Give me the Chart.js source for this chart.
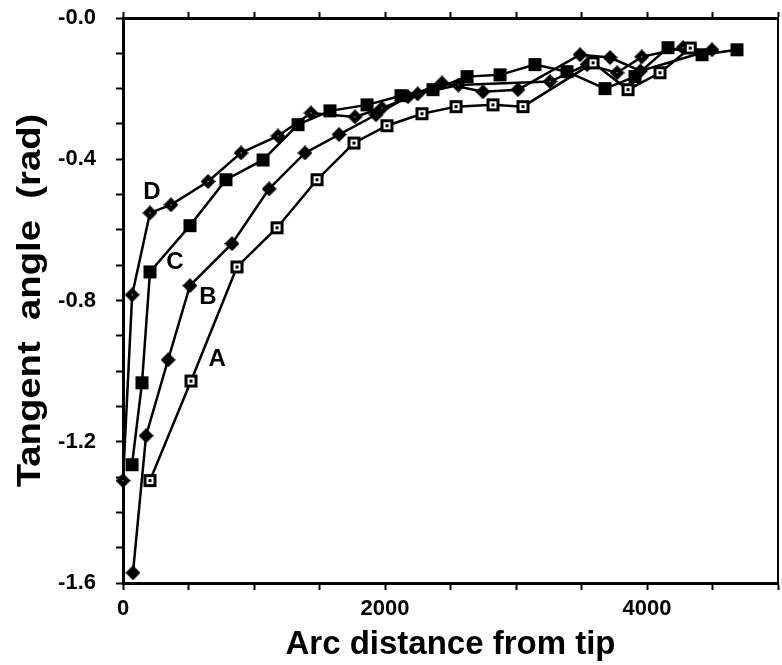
<!DOCTYPE html>
<html>
<head>
<meta charset="utf-8">
<script src="https://cdn.jsdelivr.net/npm/chart.js@4"></script>
<style>
  html, body { margin: 0; padding: 0; background: #fff; }
  #wrap { width: 782px; height: 665px; }
</style>
</head>
<body>
<div id="wrap"><canvas id="chart" width="782" height="665"></canvas></div>
<script>
// ─── Data ─────────────────────────────────────────────────────────────────────
const xA = [206, 519, 870, 1176, 1481, 1763, 2015, 2282, 2542, 2824, 3053, 3588, 3855, 4099, 4330];
const yA = [-1.31, -1.028, -0.705, -0.594, -0.458, -0.354, -0.305, -0.271, -0.251, -0.246, -0.251, -0.127, -0.203, -0.155, -0.085];

const xB = [76, 176, 344, 511, 832, 1115, 1389, 1649, 1931, 2176, 2435, 2748, 3015, 3489, 3718, 3950, 4496];
const yB = [-1.571, -1.183, -0.968, -0.758, -0.639, -0.484, -0.382, -0.330, -0.274, -0.223, -0.184, -0.209, -0.203, -0.104, -0.112, -0.150, -0.090];

const xC = [69, 145, 206, 511, 786, 1069, 1336, 1580, 1863, 2122, 2366, 2626, 2878, 3145, 3389, 3679, 3908, 4160, 4420, 4687];
const yC = [-1.265, -1.033, -0.719, -0.588, -0.458, -0.402, -0.302, -0.263, -0.246, -0.220, -0.203, -0.166, -0.161, -0.132, -0.152, -0.200, -0.166, -0.084, -0.104, -0.090];

const xD = [0, 70, 206, 366, 649, 901, 1183, 1435, 1771, 1977, 2250, 2560, 3260, 3542, 3771, 3960, 4275];
const yD = [-1.31, -0.784, -0.552, -0.529, -0.463, -0.382, -0.334, -0.269, -0.280, -0.255, -0.215, -0.190, -0.180, -0.132, -0.155, -0.110, -0.084];

// curve letters, placed in data units
const curveNames = ["A", "B", "C", "D"];
const nameX      = [718, 649, 397, 221];
const nameY      = [-0.968, -0.79, -0.693, -0.495];

const xTickLabels = [0, 2000, 4000];
const yTitle = "Tangent  angle  (rad)";
const xTitle = "Arc distance from tip";

const FONT = "'Liberation Sans', Arial, sans-serif";

// ─── Marker images ────────────────────────────────────────────────────────────
function marker(kind) {
  const s = 15;
  const c = document.createElement("canvas");
  c.width = s; c.height = s;
  const g = c.getContext("2d");
  g.fillStyle = "#000";
  if (kind === "squareDot") {
    g.fillRect(1, 1, 13, 13);
    g.fillStyle = "#fff";
    g.fillRect(4, 4, 7, 7);
    g.fillStyle = "#000";
    g.fillRect(6, 6, 3, 3);
  } else if (kind === "square") {
    g.fillRect(1, 1, 13, 13);
  } else {
    g.beginPath();
    g.moveTo(7.5, 0); g.lineTo(15, 7.5); g.lineTo(7.5, 15); g.lineTo(0, 7.5);
    g.closePath();
    g.fill();
    if (kind === "diamondDot") {
      g.fillStyle = "#fff";
      g.fillRect(7, 7, 1, 1);
    }
  }
  return c;
}

function series(xs, ys, style) {
  return {
    data: xs.map((x, i) => ({ x, y: ys[i] })),
    borderColor: "#000",
    borderWidth: 2.5,
    pointStyle: marker(style),
    pointRadius: 2,          // image markers are drawn at their own size
    pointBorderWidth: 0,
    tension: 0,
    fill: false,
    clip: false
  };
}

// ─── Letters next to the curves + stretched y title ──────────────────────────
const extras = {
  id: "extras",
  afterDatasetsDraw(chart) {
    const { ctx, scales, chartArea } = chart;
    ctx.save();
    ctx.fillStyle = "#000";
    ctx.font = "bold 24px " + FONT;
    ctx.textAlign = "center";
    ctx.textBaseline = "middle";
    curveNames.forEach((n, i) => {
      ctx.fillText(n, scales.x.getPixelForValue(nameX[i]), scales.y.getPixelForValue(nameY[i]));
    });
    ctx.restore();

    ctx.save();
    ctx.fillStyle = "#000";
    ctx.font = "bold 33px " + FONT;
    ctx.textAlign = "center";
    ctx.textBaseline = "alphabetic";
    ctx.translate(40, (chartArea.top + chartArea.bottom) / 2);
    ctx.rotate(-Math.PI / 2);
    ctx.scale(1.16, 1);
    ctx.fillText(yTitle, 0, 0);
    ctx.restore();
  }
};

const tickFont = { family: FONT, size: 22, weight: "bold" };

function noPad(s) {
  s.paddingTop = 0; s.paddingBottom = 0; s.paddingLeft = 0; s.paddingRight = 0;
}

new Chart(document.getElementById("chart"), {
  type: "line",
  data: {
    datasets: [
      series(xA, yA, "squareDot"),
      series(xB, yB, "diamond"),
      series(xC, yC, "square"),
      series(xD, yD, "diamondDot")
    ]
  },
  plugins: [extras],
  options: {
    responsive: false,
    animation: false,
    layout: { padding: { left: 4, right: 0, top: 0, bottom: 0 } },
    plugins: { legend: { display: false }, tooltip: { enabled: false } },
    scales: {
      x: {
        type: "linear",
        position: "bottom",
        min: 0, max: 5000,
        ticks: {
          stepSize: 500, autoSkip: false, maxRotation: 0,
          color: "#000", font: tickFont, padding: 6,
          callback: v => xTickLabels.includes(v) ? String(v) : ""
        },
        grid: { drawOnChartArea: false, tickLength: 7, tickColor: "#000", tickWidth: 2 },
        border: { color: "#000", width: 3 },
        title: {
          display: true, text: xTitle, color: "#000",
          font: { family: FONT, size: 33, weight: "bold" },
          padding: { top: 2, bottom: 0 }
        },
        afterFit: s => { s.height = 82; noPad(s); }
      },
      xTop: {
        type: "linear",
        position: "top",
        min: 0, max: 5000,
        ticks: { stepSize: 500, autoSkip: false, display: false },
        grid: { drawOnChartArea: false, tickLength: 6, tickColor: "#000", tickWidth: 2 },
        border: { color: "#000", width: 3 },
        afterFit: s => { s.height = 18; noPad(s); }
      },
      y: {
        type: "linear",
        position: "left",
        min: -1.6, max: 0,
        ticks: {
          stepSize: 0.1, autoSkip: false,
          color: "#000", font: tickFont, padding: 20,
          callback: v => {
            const k = Math.round(v * 10);
            if (k % 4 !== 0) return "";
            return k === 0 ? "-0.0" : v.toFixed(1);
          }
        },
        grid: { drawOnChartArea: false, tickLength: 7, tickColor: "#000", tickWidth: 2 },
        border: { color: "#000", width: 3 },
        afterFit: s => { s.width = 119; noPad(s); }
      },
      yRight: {
        type: "linear",
        position: "right",
        min: -1.6, max: 0,
        ticks: { display: false },
        grid: { display: false },
        border: { color: "#000", width: 2 },
        afterFit: s => { s.width = 3; noPad(s); }
      }
    }
  }
});
</script>
</body>
</html>
